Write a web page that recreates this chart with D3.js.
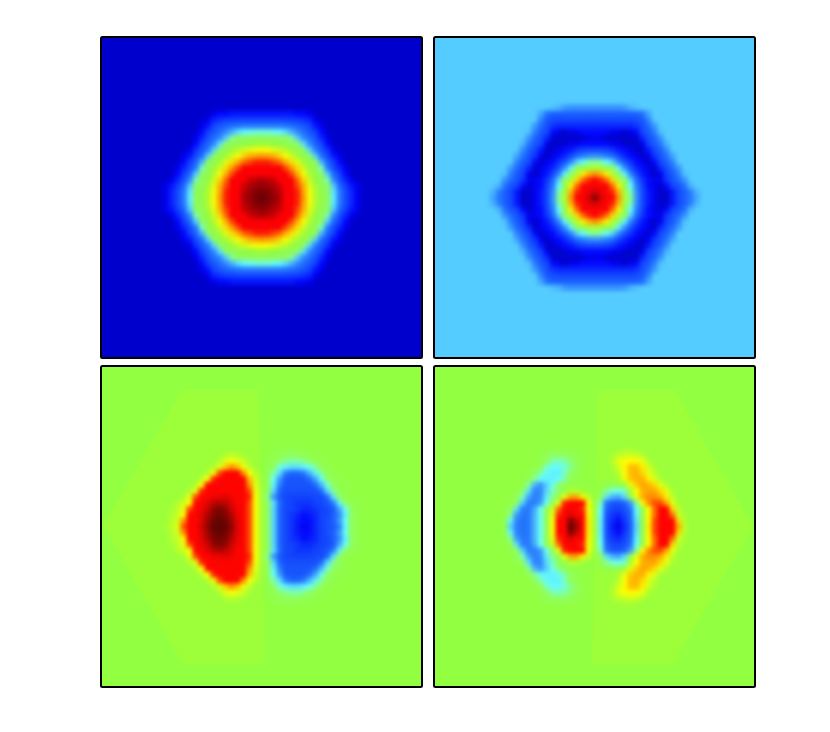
<!DOCTYPE html>
<html><head><meta charset="utf-8">
<script src="https://cdn.jsdelivr.net/npm/d3@7"></script>
<style>html,body{margin:0;padding:0;background:#fff}svg{display:block}</style>
</head><body><div id="chart"></div>
<script>
// Colour stops
const colorDomain = [8, 9.5, 14, 22, 28, 32, 37.5, 40, 44, 52, 62.5, 72, 80, 90, 100];
const colorRange = ["#0000cd","#0000ff","#1040ff","#2070ff","#3a98ff","#55ccff","#66ffff","#78ffc0","#90ff60","#92ff40","#ffff00","#ff8c00","#ff0000","#ff0000","#600000"];

// Grid positions (offset from each panel's centre)
const colsQuad1 = d3.range(0, 103, 6);
const colsQuad2 = d3.range(0, 109, 6);
const colsHalf = d3.range(-102, 103, 6);
const rows1 = d3.range(0, 91, 6);
const rows2 = d3.range(0, 97, 6);
const rows34 = d3.range(0, 79, 6);

const background1 = 8, background2 = 32, background3 = 52, background4 = 52;

// Panel 1: quadrant readings, centre outwards (picture is symmetric about both axes)
const quad1 = [
[100,98,97,95,90,83,78,71,62,55,50,46,36,24,16,12,9,8],
[98,98,96,94,90,83,78,70,62,55,50,45,35,24,16,12,9,8],
[97,96,95,93,88,82,76,69,60,54,48,44,32,21,14,11,9,8],
[95,94,93,90,85,80,74,66,58,52,47,41,26,17,12,9,8,8],
[90,90,88,85,82,76,69,62,55,50,44,32,21,14,10,8,8,8],
[83,83,82,80,76,71,65,58,53,48,40,24,16,12,9,8,8,8],
[78,78,76,74,69,65,59,54,50,44,30,20,14,10,8,8,8,8],
[71,70,69,66,62,58,54,50,46,32,22,16,11,9,8,8,8,8],
[62,62,60,58,56,53,50,46,33,24,18,13,9,8,8,8,8,8],
[53,53,52,51,49,47,44,34,26,20,15,10,8,8,8,8,8,8],
[46,46,46,45,44,42,32,26,22,17,12,9,8,8,8,8,8,8],
[39,39,38,37,34,30,26,22,18,14,10,8,8,8,8,8,8,8],
[24,24,24,24,23,22,20,18,15,11,9,8,8,8,8,8,8,8],
[15,15,15,15,15,14,14,13,12,9,8,8,8,8,8,8,8,8],
[11,11,11,11,11,11,10,10,9,8,8,8,8,8,8,8,8,8],
[8,8,8,8,8,8,8,8,8,8,8,8,8,8,8,8,8,8]];

// Panel 2: quadrant readings
const quad2 = [
[98,93,86,80,72,55,42,27,15,11,9,8,8,11,15,19,23,29,32],
[93,91,85,78,69,54,41,26,15,11,9,8,8,11,15,19,24,30,32],
[86,85,81,74,64,50,37,24,14,10,9,8,10,14,17,22,30,32,32],
[80,78,74,66,55,44,32,21,13,10,9,9,13,17,21,27,32,32,32],
[72,69,64,55,45,36,25,15,11,9,8,9,14,18,24,31,32,32,32],
[55,54,50,44,36,27,17,12,10,9,8,12,16,21,28,32,32,32,32],
[42,41,37,32,25,17,13,10,9,8,10,15,19,25,32,32,32,32,32],
[27,26,24,21,15,12,10,9,8,9,13,17,22,29,32,32,32,32,32],
[15,15,14,13,11,10,9,8,8,11,15,19,26,32,32,32,32,32,32],
[10,10,10,9,9,8,8,8,9,14,18,23,30,32,32,32,32,32,32],
[9,9,8,8,8,8,8,8,12,16,20,27,32,32,32,32,32,32,32],
[10,10,10,9,9,8,9,10,15,18,24,31,32,32,32,32,32,32,32],
[12,12,12,12,12,12,12,13,16,21,28,32,32,32,32,32,32,32,32],
[15,15,15,15,15,15,15,16,18,25,32,32,32,32,32,32,32,32,32],
[19,19,19,19,19,19,19,19,22,29,32,32,32,32,32,32,32,32,32],
[27,27,27,27,27,28,30,31,32,32,32,32,32,32,32,32,32,32,32],
[32,32,32,32,32,32,32,32,32,32,32,32,32,32,32,32,32,32,32]];

// Panel 3: half readings, middle row upwards (symmetric top/bottom)
const half3 = [
[52,54,56,60,76,86,90,93,97,100,100,100,97,92,87,76,62,54,44,33,20,15,13,11,9,10,12,14,16,18,24,37,44,49,51],
[52,53,55,58,72,86,90,92,96,99,100,99,96,92,87,76,62,54,44,33,20,15,13,11,10,10,12,14,16,19,28,38,45,49,51],
[52,53,55,57,63,84,89,92,95,98,99,98,95,91,87,76,62,54,44,33,20,15,13,12,10,11,12,14,15,19,26,36,44,49,51],
[52,52,54,56,60,76,87,91,93,97,98,97,93,91,87,76,62,54,44,33,20,15,14,13,12,12,13,14,15,18,29,38,45,49,51],
[52,52,53,55,58,62,82,89,92,94,95,94,92,90,87,76,62,54,44,34,21,15,14,13,13,13,14,15,17,24,36,44,48,50,51],
[52,52,52,53,54,60,76,86,90,91,91,92,91,90,86,78,62,54,42,28,18,15,14,14,14,14,15,15,21,34,44,49,51,51,52],
[52,52,52,52,53,55,60,78,86,89,90,90,90,88,84,76,61,54,45,33,20,16,16,16,16,16,16,21,33,42,47,50,51,52,52],
[52,52,52,52,52,53,55,62,80,87,89,89,88,87,82,72,60,53,46,36,24,17,17,17,17,17,21,30,39,45,48,50,51,52,52],
[52,52,52,52,52,52,53,56,62,78,86,87,87,85,80,68,58,53,47,38,28,18,17,17,17,21,29,37,44,48,50,51,52,52,52],
[52,52,52,52,52,52,52,53,55,61,76,84,84,80,72,62,56,52,48,41,34,24,20,20,23,30,36,42,47,49,51,52,52,52,52],
[52,52,52,52,52,52,52,52,52,55,59,67,72,68,61,56,53,52,49,44,39,36,34,34,36,38,42,46,49,51,52,52,52,52,52],
[52,52,52,52,52,52,52,52,52,53,55,59,62,60,57,54,53,52,50,47,44,42,41,41,42,44,47,49,51,52,52,52,52,52,52],
[52,52,52,52,52,52,52,52,52,52,53,55,56,55,54,53,52,52,52,49,48,46,45,46,47,48,50,51,52,52,52,52,52,52,52],
[52,52,52,52,52,52,52,52,52,52,52,53,53,53,52,52,52,52,52,51,50,49,49,50,50,51,52,52,52,52,52,52,52,52,52]];

// Panel 4: half readings
const half4 = [
[52,52,47,32,24,22,23,30,38,46,62,80,90,100,96,84,64,54,36,16,11,9,12,18,33,48,64,76,84,88,87,70,56,53,52],
[52,52,48,36,25,22,23,30,38,46,62,80,89,98,94,83,64,54,36,16,12,10,13,19,34,48,63,76,84,88,85,66,55,53,52],
[52,52,50,42,28,23,23,30,38,46,60,78,87,92,90,80,63,54,37,17,13,12,14,20,36,48,63,74,84,87,74,58,54,53,52],
[52,52,51,47,34,24,23,29,38,46,58,74,85,89,88,78,61,54,38,19,15,14,16,22,37,50,62,74,80,82,66,56,53,52,52],
[52,52,52,50,45,32,24,24,28,38,46,60,78,86,86,80,62,53,40,22,17,17,19,28,42,63,72,76,76,70,60,54,52,52,52],
[52,52,52,51,48,40,29,24,26,35,42,48,60,70,70,64,56,52,44,34,30,29,33,46,60,69,72,72,70,64,56,53,52,52,52],
[52,52,52,52,50,44,34,25,25,33,40,45,50,55,55,53,52,52,48,42,39,38,40,54,62,69,70,70,66,60,54,52,52,52,52],
[52,52,52,52,52,50,42,30,27,32,38,43,47,50,51,52,52,52,51,49,48,48,52,60,67,70,69,66,60,55,53,52,52,52,52],
[52,52,52,52,52,52,48,42,37,36,36,37,41,46,50,51,52,52,52,52,52,54,61,67,69,69,64,59,54,52,52,52,52,52,52],
[52,52,52,52,52,52,50,46,41,37,36,36,40,44,48,51,52,52,52,52,53,56,62,68,69,66,60,56,53,52,52,52,52,52,52],
[52,52,52,52,52,52,52,50,46,40,37,37,39,42,46,50,52,52,52,52,54,58,63,68,68,64,58,54,52,52,52,52,52,52,52],
[52,52,52,52,52,52,52,52,49,44,41,40,41,43,47,50,52,52,52,52,55,60,62,63,63,60,55,53,52,52,52,52,52,52,52],
[52,52,52,52,52,52,52,52,50,47,44,44,44,46,49,51,52,52,52,53,54,56,57,58,57,55,53,52,52,52,52,52,52,52,52],
[52,52,52,52,52,52,52,52,52,51,50,50,50,51,51,52,52,52,52,52,53,53,54,54,53,53,52,52,52,52,52,52,52,52,52]];

// Faint half-hexagon regions in the lower panels
const faintValue = 53;
const faintX3 = [-158.5,-79.5,-3.5,3.5,-78.5], faintY3 = [-1,-136,-136,137,137];
const faintX4 = [3.5,80.5,158.5,78.5,-2.5], faintY4 = [-136,-136,0,137,137];

const color = d3.scaleLinear().domain(colorDomain).range(colorRange).clamp(true);
const W = 830, H = 732, panelSize = 321, half = panelSize / 2, cell = 6;
const svg = d3.select("#chart").append("svg").attr("width", W).attr("height", H);
const defs = svg.append("defs");
const blur = defs.append("filter").attr("id","soft").attr("color-interpolation-filters","sRGB")
  .attr("x","-20%").attr("y","-20%").attr("width","140%").attr("height","140%");
blur.append("feGaussianBlur").attr("stdDeviation", 2);

function fromQuad(q, cols, rows) {
  const out = [];
  rows.forEach((dy, i) => cols.forEach((dx, j) => {
    const v = q[i][j];
    [[dx,dy],[-dx,dy],[dx,-dy],[-dx,-dy]].forEach((p, k) => {
      if ((k === 1 || k === 3) && dx === 0) return;
      if ((k === 2 || k === 3) && dy === 0) return;
      out.push({x:p[0], y:p[1], v});
    });
  }));
  return out;
}
function fromHalf(h, cols, rows) {
  const out = [];
  rows.forEach((dy, i) => cols.forEach((dx, j) => {
    out.push({x:dx, y:dy, v:h[i][j]});
    if (dy !== 0) out.push({x:dx, y:-dy, v:h[i][j]});
  }));
  return out;
}

const panels = [
  {x0:101, y0:37, bg:background1, cells:fromQuad(quad1, colsQuad1, rows1)},
  {x0:434, y0:37, bg:background2, cells:fromQuad(quad2, colsQuad2, rows2)},
  {x0:101, y0:366, bg:background3, cells:fromHalf(half3, colsHalf, rows34), fx:faintX3, fy:faintY3},
  {x0:434, y0:366, bg:background4, cells:fromHalf(half4, colsHalf, rows34), fx:faintX4, fy:faintY4}
];

panels.forEach((p, i) => {
  const x = d3.scaleLinear().domain([-half, half]).range([p.x0, p.x0 + panelSize]);
  const y = d3.scaleLinear().domain([-half, half]).range([p.y0, p.y0 + panelSize]);
  defs.append("clipPath").attr("id","clip"+i).append("rect")
    .attr("x",p.x0).attr("y",p.y0).attr("width",panelSize).attr("height",panelSize);
  const g = svg.append("g").attr("clip-path",`url(#clip${i})`);
  g.append("rect").attr("x",p.x0).attr("y",p.y0).attr("width",panelSize).attr("height",panelSize)
    .attr("fill",color(p.bg));
  if (p.fx) {
    const pts = p.fx.map((v,k)=>[x(v), y(p.fy[k])]);
    g.append("path").attr("d", d3.line()(pts)+"Z").attr("fill", color(faintValue));
  }
  g.append("g").attr("filter","url(#soft)").selectAll("rect")
    .data(p.cells.filter(c => c.v !== p.bg)).join("rect")
    .attr("x", c => x(c.x - cell/2)).attr("y", c => y(c.y - cell/2))
    .attr("width", cell + .4).attr("height", cell + .4)
    .attr("fill", c => color(c.v));
  svg.append("rect").attr("x",p.x0).attr("y",p.y0).attr("width",panelSize).attr("height",panelSize)
    .attr("rx",1.5).attr("fill","none").attr("stroke","#000").attr("stroke-width",2);
});
</script></body></html>
